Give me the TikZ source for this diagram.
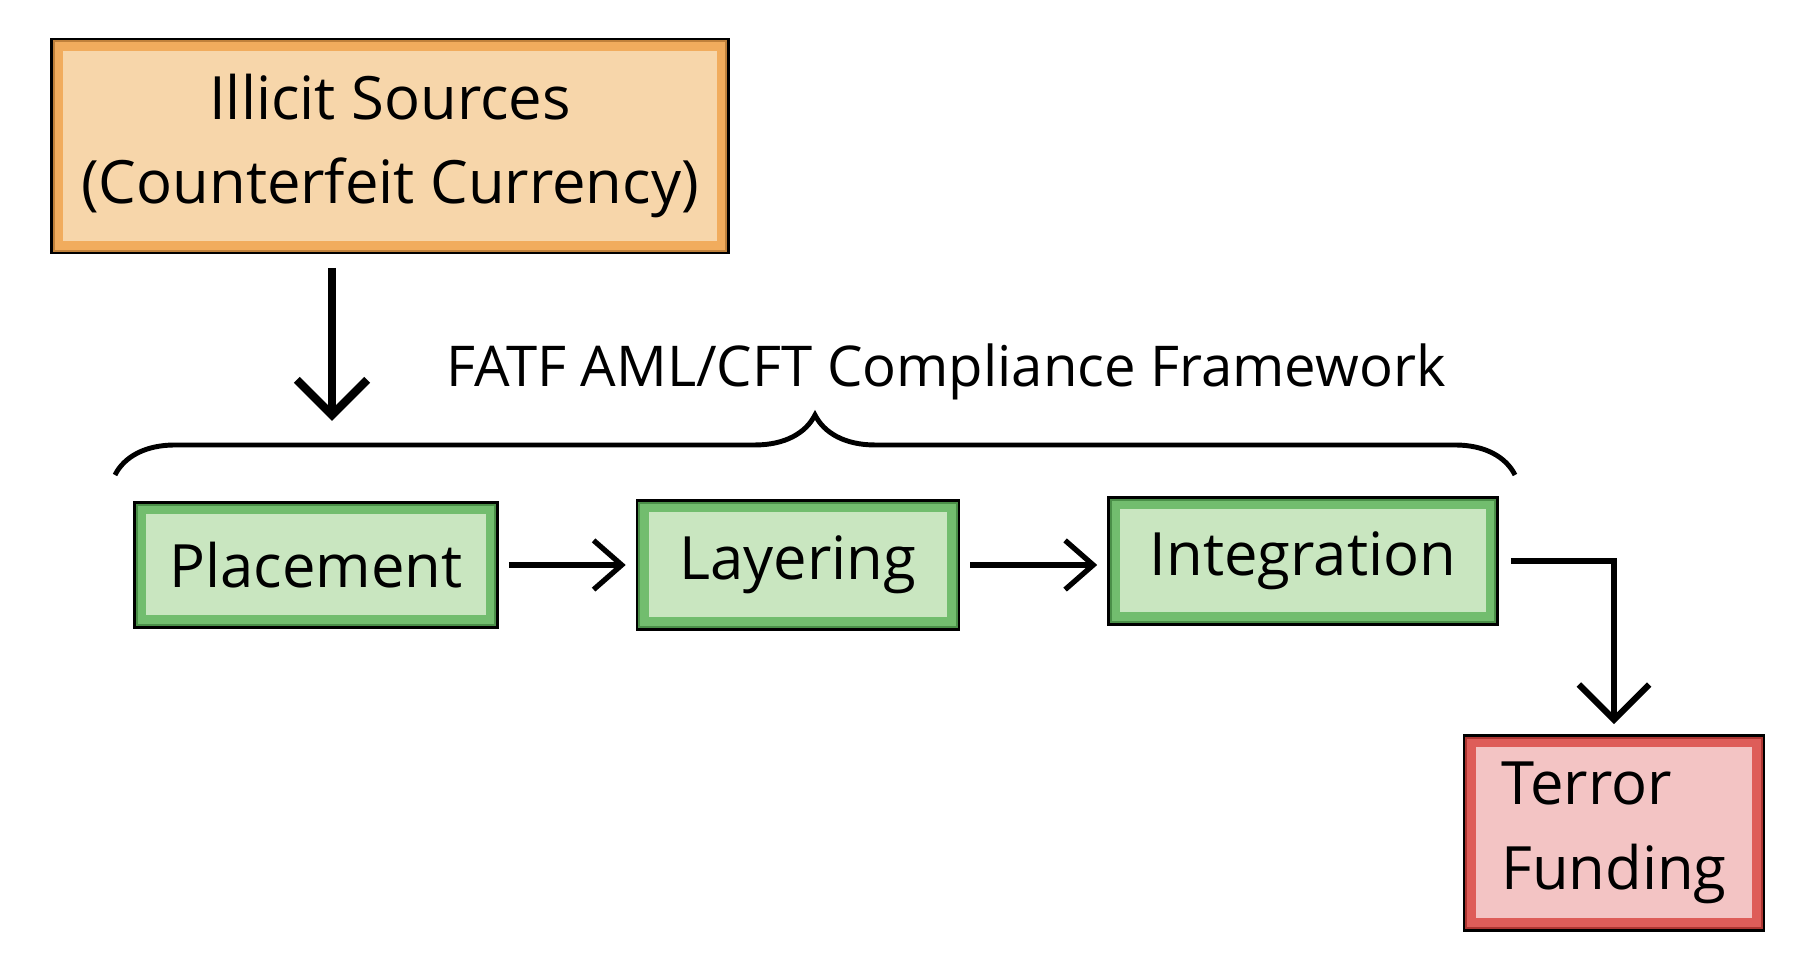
\documentclass[tikz,border=0pt]{standalone}
\usepackage{fontspec}
\setmainfont{Open Sans}
\usetikzlibrary{arrows.meta,decorations.pathreplacing}

\definecolor{orangefill}{HTML}{F7D6AA}
\definecolor{orangeline}{HTML}{F0A24A}
\definecolor{greenfill}{HTML}{C9E6C0}
\definecolor{greenline}{HTML}{5DB35A}
\definecolor{redfill}{HTML}{F3C4C4}
\definecolor{redline}{HTML}{D9443F}

\tikzset{
  box/.style={draw=black, line width=1.3pt, inner sep=0pt, align=center, font=\fontsize{17}{24}\selectfont},
  flow/.style={-{Straight Barb[length=8pt,width=14pt]}, line width=1.5pt},
  bigflow/.style={-{Straight Barb[length=10pt,width=20pt]}, line width=2.4pt}
}

\begin{document}
\begin{tikzpicture}
\useasboundingbox (0,0) rectangle (18,9.68);

% stages
\node[box, fill=orangefill, minimum width=6.75cm, minimum height=2.12cm] (src) at (3.90,8.22) {Illicit Sources\\(Counterfeit Currency)};
\node[box, fill=greenfill, minimum width=3.61cm, minimum height=1.23cm] (place) at (3.16,4.03) {Placement};
\node[box, fill=greenfill, minimum width=3.20cm, minimum height=1.27cm] (layer) at (7.98,4.03) {Layering};
\node[box, fill=greenfill, minimum width=3.87cm, minimum height=1.25cm] (integ) at (13.03,4.07) {Integration};
\node[box, fill=redfill, align=left, minimum width=2.98cm, minimum height=1.93cm] (terror) at (16.14,1.35) {Terror\\Funding};

% inner coloured frames
\foreach \n/\c in {src/orangeline, place/greenline, layer/greenline, integ/greenline, terror/redline}
  \draw[\c, line width=3pt, opacity=0.8] ([shift={(0.08,-0.08)}]\n.north west) rectangle ([shift={(-0.08,0.08)}]\n.south east);

% framework brace
\coordinate (bl) at (1.15,4.93);
\coordinate (br) at (15.15,4.93);
\draw[line width=1.4pt, decorate, decoration={brace, amplitude=0.6cm}] (bl) -- (br);
\node[font=\fontsize{16}{20}\selectfont] (fw) at (9.46,5.96) {FATF AML/CFT Compliance Framework};

% arrows
\coordinate (srcout) at (3.32,7.00);
\coordinate (srcin) at (3.32,5.47);
\draw[bigflow] (srcout) -- (srcin);
\draw[flow] ([xshift=0.1cm]place.east) -- ([xshift=-0.1cm]place.east -| layer.west);
\draw[flow] ([xshift=0.1cm]layer.east) -- ([xshift=-0.1cm]layer.east -| integ.west);
\draw[bigflow, line width=1.8pt] ([xshift=0.12cm]integ.east) -| ([yshift=0.1cm]terror.north);
\end{tikzpicture}
\end{document}
